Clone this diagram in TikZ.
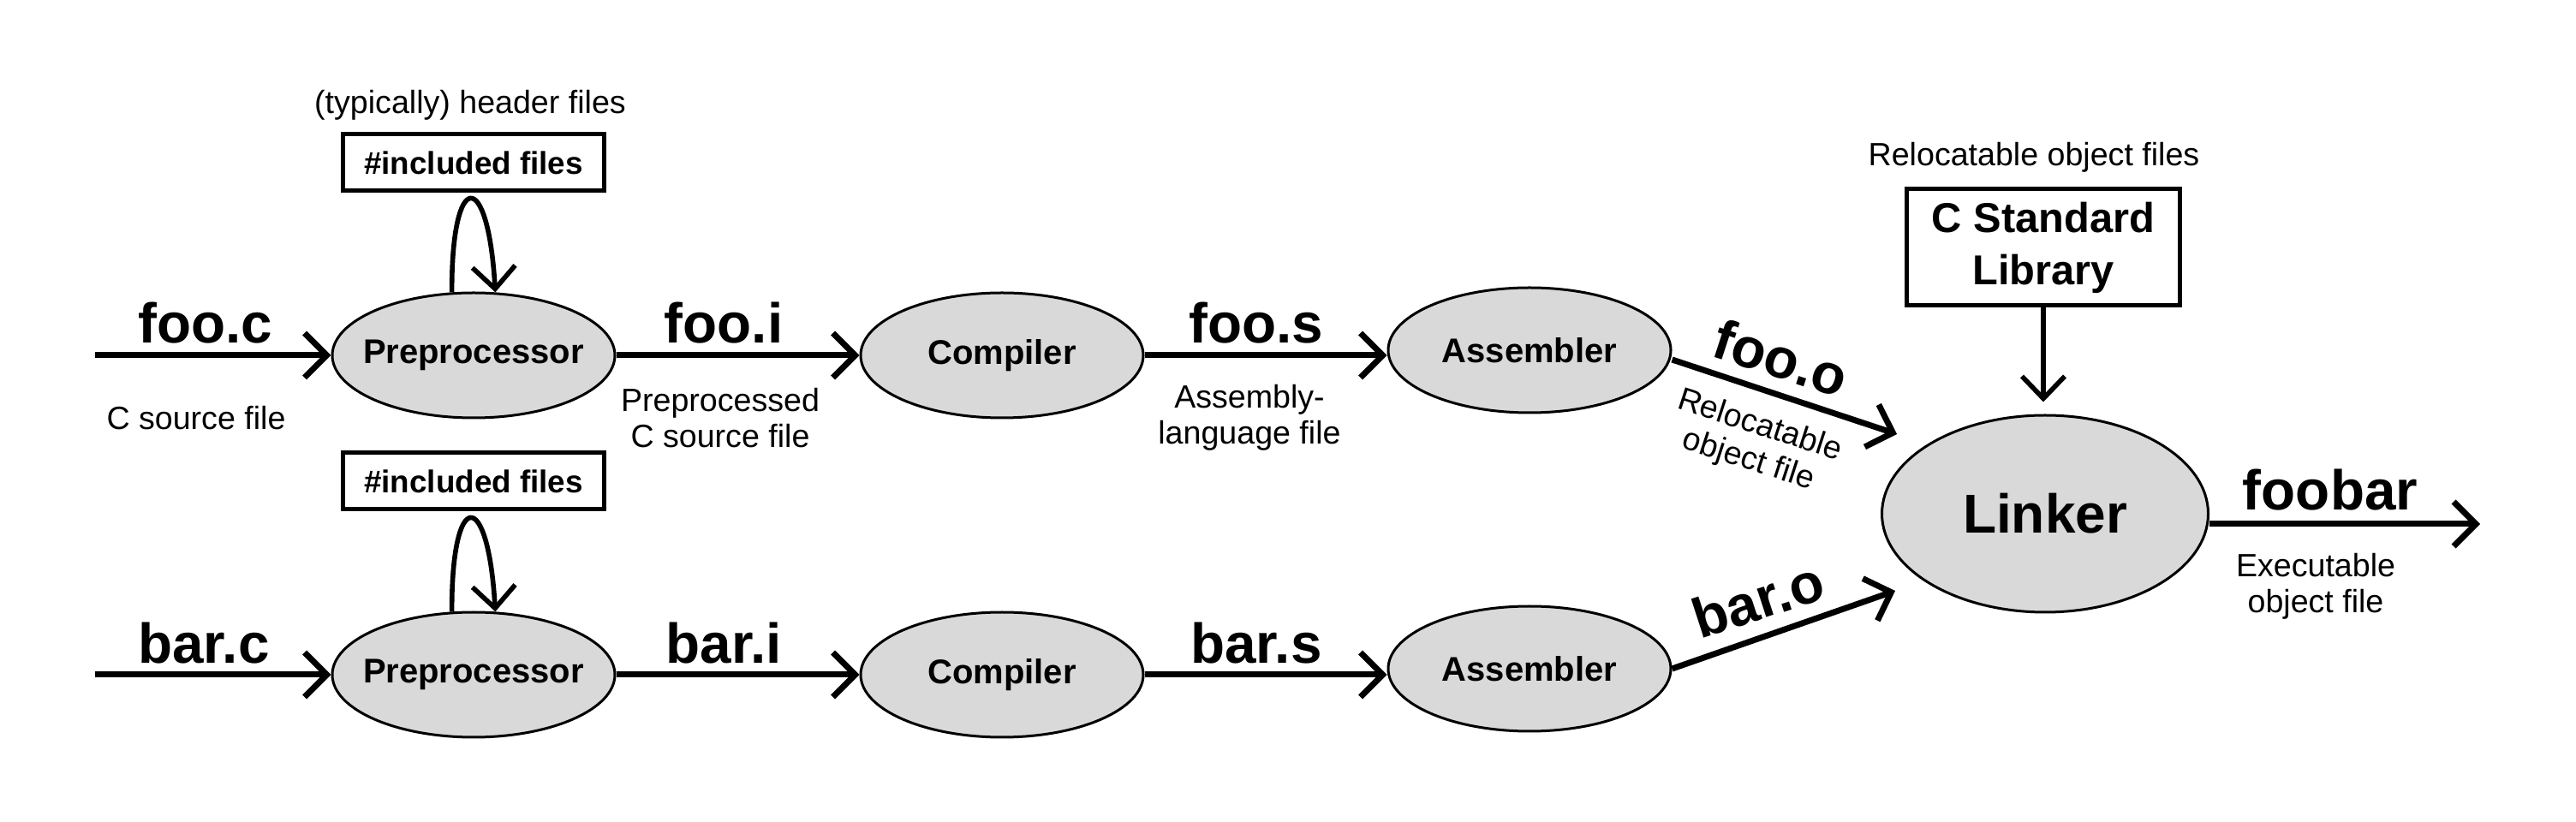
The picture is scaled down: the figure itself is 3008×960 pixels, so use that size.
\documentclass[tikz,border=0pt]{standalone}
\usepackage{fontspec}
\setmainfont{Liberation Sans}
\usetikzlibrary{shapes.geometric,arrows.meta,calc}
\begin{document}
\begin{tikzpicture}[x=0.25pt,y=-0.25pt,
  proc/.style={ellipse,draw,line width=0.75pt,fill=gray!30,minimum width=82.5pt,minimum height=36.5pt,inner sep=0pt,font=\bfseries\fontsize{10}{12}\selectfont},
  filebox/.style={draw,line width=1.25pt,inner sep=0pt,font=\bfseries\fontsize{9.2}{11}\selectfont},
  flow/.style={line width=1.75pt,-{Straight Barb[length=6.5pt,width=13pt]}},
  thinflow/.style={line width=1.4pt,-{Straight Barb[length=6.5pt,width=12.5pt]}},
  big/.style={anchor=base,font=\bfseries\fontsize{16.4}{19}\selectfont},
  note/.style={align=center,font=\fontsize{9.4}{10.5}\selectfont},
]
\useasboundingbox (0,0) rectangle (3008,960);

% process nodes
\node[proc] (pp1) at (553,415) {\makebox[0pt]{Preprocessor}};
\node[proc] (cp1) at (1170,415) {Compiler};
\node[proc] (as1) at (1786,409) {Assembler};
\node[proc] (pp2) at (553,788) {\makebox[0pt]{Preprocessor}};
\node[proc] (cp2) at (1170,788) {Compiler};
\node[proc] (as2) at (1786,781) {Assembler};
\node[proc,minimum width=95.25pt,minimum height=57.5pt,font=\bfseries\fontsize{16}{19}\selectfont] (lk) at (2388,600) {Linker};

% boxes
\node[filebox,minimum width=76.25pt,minimum height=16.5pt] (inc1) at (553,190) {\#included files};
\node[filebox,minimum width=76.25pt,minimum height=16.5pt] (inc2) at (553,562) {\#included files};
\node[filebox,minimum width=79.75pt,minimum height=34pt,align=center,font=\bfseries\fontsize{12.2}{15.2}\selectfont] (lib) at (2386,289) {C Standard\\Library};

% top notes
\node[note] (hdr) at (549,123) {(typically) header files};
\node[note] (rel) at (2375,184) {Relocatable object files};

% row 1
\coordinate (in1) at (111,415);
\draw[flow] (in1) -- (pp1);
\node[big] (lfooc) at (240,401) {foo.c};
\node[note] (dfooc) at (229,488) {C source file};

\draw[flow] (pp1) -- (cp1);
\node[big] (lfooi) at (845,401) {foo.i};
\node[note] (dfooi) at (841,488) {Preprocessed\\C source file};

\draw[flow] (cp1.east) -- (cp1.east -| as1.west);
\node[big] (lfoos) at (1467,401) {foo.s};
\node[note] (dfoos) at (1459,488) {Assembly-\\language file};

\coordinate (fooend) at (2215,507);
\draw[flow] ($(as1.east)+(0,11)$) -- (fooend);
\node[big,anchor=center,rotate=-18] (lfooo) at (2080,418) {foo.o};
\node[note,rotate=-18] (dfooo) at (2048,518) {Relocatable\\object file};

\draw[thinflow] (pp1.109) .. controls (527,196) and (570,196) .. (pp1.71);

% row 2
\coordinate (in2) at (111,788);
\draw[flow] (in2) -- (pp2);
\node[big] (lbarc) at (238,774) {bar.c};

\draw[flow] (pp2) -- (cp2);
\node[big] (lbari) at (845,774) {bar.i};

\draw[flow] (cp2.east) -- (cp2.east -| as2.west);
\node[big] (lbars) at (1467,774) {bar.s};

\coordinate (barend) at (2213,690);
\draw[flow] (as2.east) -- (barend);
\node[big,anchor=center,rotate=18] (lbaro) at (2053,700) {bar.o};

\draw[thinflow] (pp2.109) .. controls (527,569) and (570,569) .. (pp2.71);

% linker
\draw[thinflow,shorten >=3.5pt] (lib.south) -- (lib.south |- lk.north);
\coordinate (out) at (2896,612);
\draw[flow] (lk.east |- out) -- (out);
\node[big] (lfoobar) at (2721,596) {foobar};
\node[note] (dfoobar) at (2704,685) {Executable\\object file};
\end{tikzpicture}
\end{document}
